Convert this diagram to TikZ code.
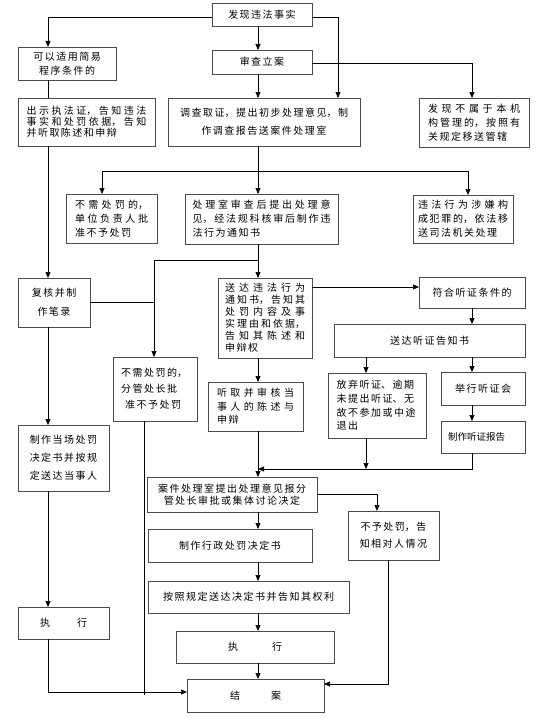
\documentclass[tikz,border=0pt]{standalone}
\usepackage{fontspec}
\setmainfont{Noto Sans CJK SC}
\usetikzlibrary{arrows.meta}
\XeTeXlinebreaklocale "zh"
\XeTeXlinebreakskip=1.5pt plus 3pt minus 1pt
\newcommand\lsp[1]{\fontsize{10pt}{#1pt}\selectfont}
\begin{document}
\begin{tikzpicture}[x=1pt,y=-1pt,
  box/.style={draw=black!70, line width=0.7pt, inner sep=0pt, outer sep=0pt, font=\lsp{12}},
  ctr/.style={text width=#1, align=flush center},
  ln/.style={draw=black, line width=0.7pt},
  arr/.style={ln, -{Triangle[length=6pt,width=5pt]}}]
\useasboundingbox (0,0) rectangle (545,725);
% coordinates of line positions
\foreach \v in {48,102,144,154,258,338,366,377,388,468,472} {\coordinate (x\v) at (\v,0);}
\foreach \v in {17,63,171,260,287,469,494,684,692,695} {\coordinate (y\v) at (0,\v);}
% boxes
\node[box, minimum width=100pt, minimum height=23pt, ctr=96pt] (A) at (262,14.5) {发现违法事实};
\node[box, minimum width=98pt, minimum height=33pt, ctr=94pt, font=\lsp{14}] (B) at (67,63.5) {可以适用简易\\程序条件的};
\node[box, minimum width=100pt, minimum height=24pt, ctr=96pt] (C) at (262,62) {审查立案};
\node[box, minimum width=137pt, minimum height=48pt, text width=120pt, align=justify, font=\lsp{11}] (D) at (86.5,122) {出示执法证，告知违法\linebreak 事实和处罚依据，告知\linebreak 并听取陈述和申辩};
\node[box, minimum width=192pt, minimum height=48pt, ctr=176pt, font=\lsp{18}] (E) at (264,122) {调查取证，提出初步处理意见，制\\作调查报告送案件处理室};
\node[box, minimum width=110pt, minimum height=49pt, text width=92pt, align=justify, font=\lsp{14}] (F) at (474,122.5) {发现不属于本机\linebreak 构管理的，按照有\linebreak 关规定移送管辖};
\node[box, minimum width=91pt, minimum height=49pt, text width=73pt, align=justify, font=\lsp{14}] (G) at (111.5,218.5) {不需处罚的，\linebreak 单位负责人批\linebreak 准不予处罚};
\node[box, minimum width=153pt, minimum height=50pt, text width=138pt, align=justify, font=\lsp{14}] (H) at (261.5,219) {处理室审查后提出处理意\linebreak 见，经法规科核审后制作违\linebreak 法行为通知书};
\node[box, minimum width=100pt, minimum height=48pt, text width=90pt, align=justify, font=\lsp{14}] (I) at (463,219) {违法行为涉嫌构\linebreak 成犯罪的，依法移\linebreak 送司法机关处理};
\node[box, minimum width=72pt, minimum height=49pt, ctr=68pt, font=\lsp{19}] (J) at (54,302.5) {复核并制\\作笔录};
\node[box, minimum width=94pt, minimum height=80pt, text width=80pt, align=justify, font=\lsp{12}] (K) at (265,318) {送达违法行为\linebreak 通知书，告知其\linebreak 处罚内容及事\linebreak 实理由和依据，\linebreak 告知其陈述和\linebreak 申辩权};
\node[box, minimum width=106pt, minimum height=31pt, ctr=102pt] (L) at (472,292.5) {符合听证条件的};
\node[box, minimum width=191pt, minimum height=33pt, ctr=187pt] (M) at (429.5,340.5) {送达听证告知书};
\node[box, minimum width=84pt, minimum height=64pt, text width=68pt, align=flush left, font=\lsp{16}] (N) at (155,389) {不需处罚的，\\分管处长批\\\hspace*{4pt}准不予处罚};
\node[box, minimum width=95pt, minimum height=49pt, text width=77pt, align=justify, font=\lsp{13.5}] (O) at (255.5,406.5) {听取并审核当\linebreak 事人的陈述与\linebreak 申辩};
\node[box, minimum width=98pt, minimum height=65pt, text width=81pt, align=flush left, font=\lsp{13.7}] (P) at (377,405.5) {放弃听证、逾期\\未提出听证、无\\故不参加或中途\\退出};
\node[box, minimum width=84pt, minimum height=33pt, ctr=80pt] (Q) at (483,388.5) {举行听证会};
\node[box, minimum width=84pt, minimum height=32pt, text width=70pt, align=flush left, font={\fontsize{9.5pt}{11pt}\selectfont\XeTeXlinebreakskip=0pt}] (R) at (483,437) {制作听证报告};
\node[box, minimum width=91pt, minimum height=66pt, ctr=87pt, font=\lsp{18}] (S) at (63.5,458) {制作当场处罚\\决定书并按规\\定送达当事人};
\node[box, minimum width=170pt, minimum height=35pt, ctr=166pt, font=\lsp{11.5}] (T) at (232,494.5) {案件处理室提出处理意见报分\\管处长审批或集体讨论决定};
\node[box, minimum width=91pt, minimum height=49pt, ctr=87pt, font=\lsp{17}] (U) at (393.5,535.5) {不予处罚，告\\知相对人情况};
\node[box, minimum width=164pt, minimum height=33pt, ctr=160pt] (V) at (230,545.5) {制作行政处罚决定书};
\node[box, minimum width=201pt, minimum height=32pt, ctr=197pt] (W) at (248.5,597) {按照规定送达决定书并告知其权利};
\node[box, minimum width=158pt, minimum height=32pt, ctr=154pt] (X) at (255,647) {执\hspace{34pt}行};
\node[box, minimum width=137pt, minimum height=33pt, ctr=133pt] (Y) at (255.5,695.5) {结\hspace{31pt}案};
\node[box, minimum width=91pt, minimum height=32pt, ctr=87pt] (Z) at (63.5,623) {执\hspace{27pt}行};
% connectors
\draw[arr] (A.west |- y17) -| (x48 |- B.north);
\draw[arr] (x258 |- A.south) -- (x258 |- C.north);
\draw[arr] (A.east |- y17) -| (x338 |- E.north);
\draw[ln] (x48 |- B.south) -- (x48 |- D.north);
\draw[arr] (x258 |- C.south) -- (x258 |- E.north);
\draw[arr] (C.east |- y63) -| (x472 |- F.north);
\draw[arr] (x258 |- E.south) -- (x258 |- H.north);
\draw[arr] (x258 |- y171) -| (x102 |- G.north);
\draw[arr] (x258 |- y171) -| (x468 |- I.north);
\draw[arr] (x48 |- D.south) -- (x48 |- J.north);
\draw[arr] (x258 |- H.south) -- (x258 |- K.north);
\draw[arr] (x258 |- y260) -| (x154 |- N.north);
\draw[ln] (J.east) -- (x154 |- J.east);
\draw[arr] (K.east |- y287) -- (L.west |- y287);
\draw[arr] (x472 |- L.south) -- (x472 |- M.north);
\draw[arr] (x366 |- M.south) -- (x366 |- P.north);
\draw[arr] (x472 |- M.south) -- (x472 |- Q.north);
\draw[arr] (x472 |- Q.south) -- (x472 |- R.north);
\draw[arr] (x258 |- K.south) -- (x258 |- O.north);
\draw[arr] (x258 |- O.south) -- (x258 |- T.north);
\draw[arr] (x366 |- P.south) -- (x366 |- y469);
\draw[arr] (x472 |- R.south) |- (x258 |- y469);
\draw[arr] (T.east |- y494) -| (x377 |- U.north);
\draw[arr] (x258 |- T.south) -- (x258 |- V.north);
\draw[arr] (x258 |- V.south) -- (x258 |- W.north);
\draw[arr] (x258 |- W.south) -- (x258 |- X.north);
\draw[arr] (x258 |- X.south) -- (x258 |- Y.north);
\draw[arr] (x388 |- U.south) |- (Y.east |- y684);
\draw[arr] (x48 |- J.south) -- (x48 |- S.north);
\draw[arr] (x48 |- S.south) -- (x48 |- Z.north);
\draw[arr] (x48 |- Z.south) |- (Y.west |- y692);
\draw[ln] (x144 |- N.south) -- (x144 |- y695);
\end{tikzpicture}
\end{document}
